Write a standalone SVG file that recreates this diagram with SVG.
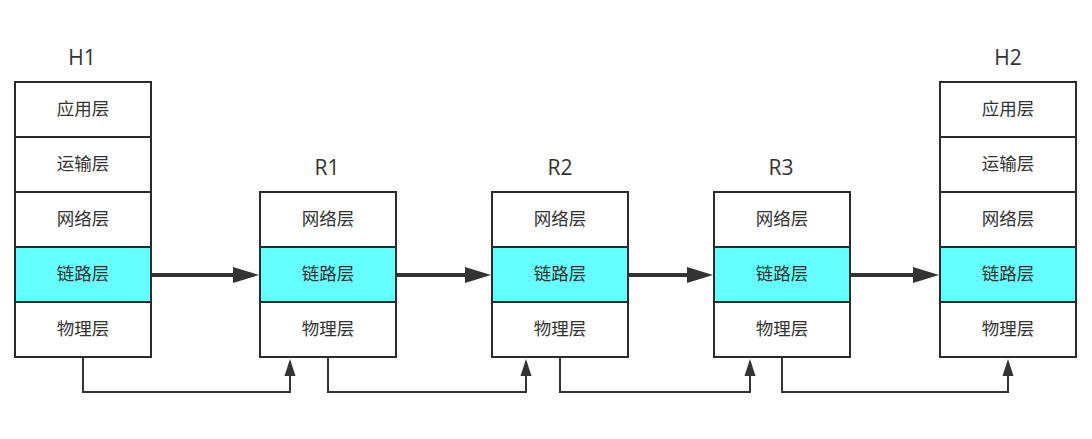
<svg xmlns="http://www.w3.org/2000/svg" width="1092" height="439" viewBox="0 0 1092 439">
<style>
.cell{fill:#ffffff;stroke:#2b2b2b;stroke-width:2}
.link{fill:#66ffff;stroke:#2b2b2b;stroke-width:2}
.t{font-family:"Noto Sans CJK SC","Open Sans",sans-serif;font-size:17.5px;fill:#333333;text-anchor:middle;dominant-baseline:central}
.h{font-family:"Open Sans","Liberation Sans",sans-serif;font-size:21px;fill:#333333;text-anchor:middle}
.thick{stroke:#333333;stroke-width:4;fill:none}
.thin{stroke:#333333;stroke-width:2;fill:none}
.head{fill:#333333}
</style>
<rect width="1092" height="439" fill="#ffffff"/>
<g id="H1">
<text class="h" x="82" y="65">H1</text>
<rect class="cell" x="15" y="82" width="136" height="55"/>
<text class="t" x="83" y="107.5">应用层</text>
<rect class="cell" x="15" y="137" width="136" height="55"/>
<text class="t" x="83" y="162.5">运输层</text>
<rect class="cell" x="15" y="192" width="136" height="55"/>
<text class="t" x="83" y="217.5">网络层</text>
<rect class="link" x="15" y="247" width="136" height="55"/>
<text class="t" x="83" y="272.5">链路层</text>
<rect class="cell" x="15" y="302" width="136" height="55"/>
<text class="t" x="83" y="327.5">物理层</text>
</g>
<g id="R1">
<text class="h" x="327" y="175">R1</text>
<rect class="cell" x="260" y="192" width="136" height="55"/>
<text class="t" x="328" y="217.5">网络层</text>
<rect class="link" x="260" y="247" width="136" height="55"/>
<text class="t" x="328" y="272.5">链路层</text>
<rect class="cell" x="260" y="302" width="136" height="55"/>
<text class="t" x="328" y="327.5">物理层</text>
</g>
<g id="R2">
<text class="h" x="560" y="175">R2</text>
<rect class="cell" x="492" y="192" width="136" height="55"/>
<text class="t" x="560" y="217.5">网络层</text>
<rect class="link" x="492" y="247" width="136" height="55"/>
<text class="t" x="560" y="272.5">链路层</text>
<rect class="cell" x="492" y="302" width="136" height="55"/>
<text class="t" x="560" y="327.5">物理层</text>
</g>
<g id="R3">
<text class="h" x="781" y="175">R3</text>
<rect class="cell" x="714" y="192" width="136" height="55"/>
<text class="t" x="782" y="217.5">网络层</text>
<rect class="link" x="714" y="247" width="136" height="55"/>
<text class="t" x="782" y="272.5">链路层</text>
<rect class="cell" x="714" y="302" width="136" height="55"/>
<text class="t" x="782" y="327.5">物理层</text>
</g>
<g id="H2">
<text class="h" x="1008" y="65">H2</text>
<rect class="cell" x="940" y="82" width="136" height="55"/>
<text class="t" x="1008" y="107.5">应用层</text>
<rect class="cell" x="940" y="137" width="136" height="55"/>
<text class="t" x="1008" y="162.5">运输层</text>
<rect class="cell" x="940" y="192" width="136" height="55"/>
<text class="t" x="1008" y="217.5">网络层</text>
<rect class="link" x="940" y="247" width="136" height="55"/>
<text class="t" x="1008" y="272.5">链路层</text>
<rect class="cell" x="940" y="302" width="136" height="55"/>
<text class="t" x="1008" y="327.5">物理层</text>
</g>
<g id="connectors">
<line class="thick" x1="152" y1="275" x2="236" y2="275"/>
<polygon class="head" points="259,275 233,267 233,283"/>
<line class="thick" x1="397" y1="275" x2="468" y2="275"/>
<polygon class="head" points="491,275 465,267 465,283"/>
<line class="thick" x1="629" y1="275" x2="690" y2="275"/>
<polygon class="head" points="713,275 687,267 687,283"/>
<line class="thick" x1="851" y1="275" x2="916" y2="275"/>
<polygon class="head" points="939,275 913,267 913,283"/>
<polyline class="thin" points="83,358 83,392 290,392 290,374"/>
<polygon class="head" points="290,359 284.5,376 295.5,376"/>
<polyline class="thin" points="328,358 328,392 526,392 526,374"/>
<polygon class="head" points="526,359 520.5,376 531.5,376"/>
<polyline class="thin" points="560,358 560,392 750,392 750,374"/>
<polygon class="head" points="750,359 744.5,376 755.5,376"/>
<polyline class="thin" points="782,358 782,392 1008,392 1008,374"/>
<polygon class="head" points="1008,359 1002.5,376 1013.5,376"/>
</g>
</svg>
